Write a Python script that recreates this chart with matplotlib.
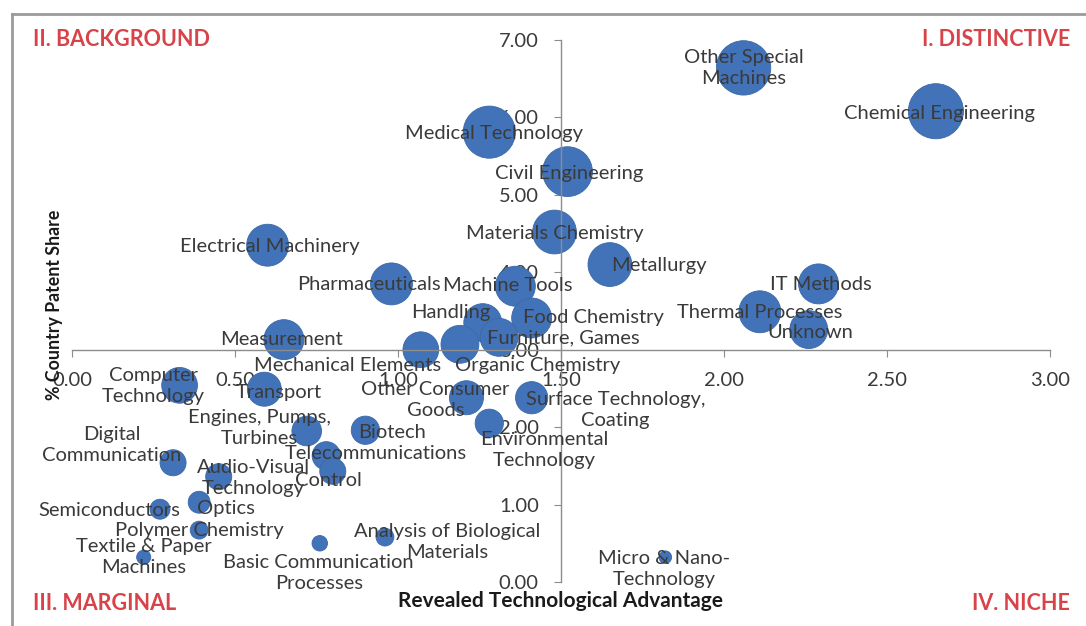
import matplotlib
matplotlib.use("Agg")
import matplotlib.pyplot as plt
from matplotlib.lines import Line2D

plt.rcParams["font.family"] = ["Lato", "DejaVu Sans"]

# technology fields: revealed technological advantage (x), % country patent share (y), bubble size
fields = [
    "Other Special\nMachines", "Chemical Engineering", "Medical Technology", "Civil Engineering",
    "Materials Chemistry", "Metallurgy", "Electrical Machinery", "Pharmaceuticals",
    "Machine Tools", "IT Methods", "Thermal Processes", "Unknown",
    "Food Chemistry", "Handling", "Furniture, Games", "Organic Chemistry",
    "Mechanical Elements", "Measurement", "Computer\nTechnology", "Transport",
    "Other Consumer\nGoods", "Surface Technology,\nCoating", "Engines, Pumps,\nTurbines", "Biotech",
    "Environmental\nTechnology", "Telecommunications", "Control", "Digital\nCommunication",
    "Audio-Visual\nTechnology", "Semiconductors", "Optics", "Polymer Chemistry",
    "Textile & Paper\nMachines", "Basic Communication\nProcesses", "Analysis of Biological\nMaterials",
    "Micro & Nano-\nTechnology",
]
rta = [
    2.06, 2.65, 1.28, 1.52, 1.48, 1.65, 0.60, 0.98, 1.36, 2.29, 2.11, 2.26,
    1.41, 1.26, 1.31, 1.19, 1.07, 0.65, 0.33, 0.59, 1.21, 1.41, 0.72, 0.90,
    1.28, 0.78, 0.80, 0.31, 0.45, 0.27, 0.39, 0.39, 0.22, 0.76, 0.96, 1.82,
]
share = [
    6.64, 6.08, 5.81, 5.30, 4.52, 4.10, 4.35, 3.85, 3.82, 3.85, 3.49, 3.26,
    3.41, 3.35, 3.16, 3.07, 3.00, 3.13, 2.54, 2.49, 2.38, 2.38, 1.95, 1.96,
    2.05, 1.63, 1.43, 1.54, 1.36, 0.94, 1.03, 0.67, 0.32, 0.50, 0.58, 0.32,
]
bubble_size = [
    74, 76, 68, 62, 48, 48, 44, 44, 40, 40, 44, 36,
    40, 36, 36, 36, 32, 40, 32, 29, 29, 26, 22, 20,
    20, 20, 17, 17, 17, 10, 12, 8, 5, 6, 8, 4,
]
x_ticks = [0, 0.5, 1.0, 1.5, 2.0, 2.5, 3.0]
y_ticks = [0, 1, 2, 3, 4, 5, 6, 7]
quadrants = ["I. DISTINCTIVE", "II. BACKGROUND", "III. MARGINAL", "IV. NICHE"]

# label offsets from bubble centre, in pixels (right, down)
label_off = [
    (0, 0), (4, 2), (5, 1), (2, 2), (0, 1), (49, 1), (2, 1), (-23, 1),
    (-8, -1), (2, 1), (0, 1), (2, 3), (62, 0), (-32, -10), (64, 1), (78, 21),
    (-73, 16), (-2, 0), (-26, 1), (14, 3), (-31, 2), (84, 12), (-47, -3), (27, 2),
    (55, 27), (50, -2), (-4, 9), (-61, -18), (35, 1), (-51, 1), (27, 6), (0, 0),
    (0, 0), (-1, 30), (62, 5), (-1, 12),
]

blue = "#4273B9"
grey = "#8C8C8C"
txt = "#3A3A3A"
red = "#D8434A"
fs = 14.5

fig = plt.figure(figsize=(10.86, 6.26), dpi=100)
ax = fig.add_axes([72 / 1086, 44 / 626, 978 / 1086, 542 / 626])

ax.scatter(rta, share, s=[20.7 * v for v in bubble_size], color=blue, edgecolors="#3A68A8",
           linewidths=0.6, zorder=2)

for name, x, y, (dx, dy) in zip(fields, rta, share, label_off):
    ax.annotate(name, (x, y), xytext=(dx * 0.72, -dy * 0.72), textcoords="offset points",
                ha="center", va="center", fontsize=fs, color=txt, zorder=3,
                linespacing=1.3)

ax.set_xlim(0, 3)
ax.set_ylim(0, 7)
ax.spines["top"].set_visible(False)
ax.spines["right"].set_visible(False)
ax.spines["left"].set_position(("data", 1.5))
ax.spines["bottom"].set_position(("data", 3.0))
for side in ("left", "bottom"):
    ax.spines[side].set_color(grey)
    ax.spines[side].set_linewidth(1.0)
ax.set_xticks(x_ticks)
ax.set_yticks(y_ticks)
ax.set_xticklabels([f"{v:.2f}" for v in x_ticks])
ax.set_yticklabels([f"{v:.2f}" for v in y_ticks])
ax.tick_params(axis="x", direction="out", length=5, color=grey, pad=11, labelsize=fs, labelcolor=txt)
ax.tick_params(axis="y", direction="out", length=5, color=grey, pad=11, labelsize=fs, labelcolor=txt)
ax.patch.set_visible(False)

fig.text(561 / 1086, 1 - 601 / 626, "Revealed Technological Advantage", ha="center", va="center",
         fontsize=15, fontweight="bold", color="#1A1A1A")
fig.text(55 / 1086, 1 - 305 / 626, "% Country Patent Share", ha="center", va="center",
         rotation=90, fontsize=12.8, fontweight="bold", color="#1A1A1A")

qfs = 15.5
fig.text(1070 / 1086, 1 - 40 / 626, quadrants[0], ha="right", va="center", fontsize=qfs,
         fontweight="bold", color=red)
fig.text(33 / 1086, 1 - 40 / 626, quadrants[1], ha="left", va="center", fontsize=qfs,
         fontweight="bold", color=red)
fig.text(33 / 1086, 1 - 604 / 626, quadrants[2], ha="left", va="center", fontsize=qfs,
         fontweight="bold", color=red)
fig.text(1070 / 1086, 1 - 604 / 626, quadrants[3], ha="right", va="center", fontsize=qfs,
         fontweight="bold", color=red)

# chart frame (only top and left edges visible in the crop)
fig.add_artist(Line2D([12 / 1086, 1], [1 - 14 / 626, 1 - 14 / 626], transform=fig.transFigure,
                      color="#9A9A9A", lw=2))
fig.add_artist(Line2D([12 / 1086, 12 / 1086], [0, 1 - 14 / 626], transform=fig.transFigure,
                      color="#9A9A9A", lw=2))

fig.savefig("out.png", dpi=100)
